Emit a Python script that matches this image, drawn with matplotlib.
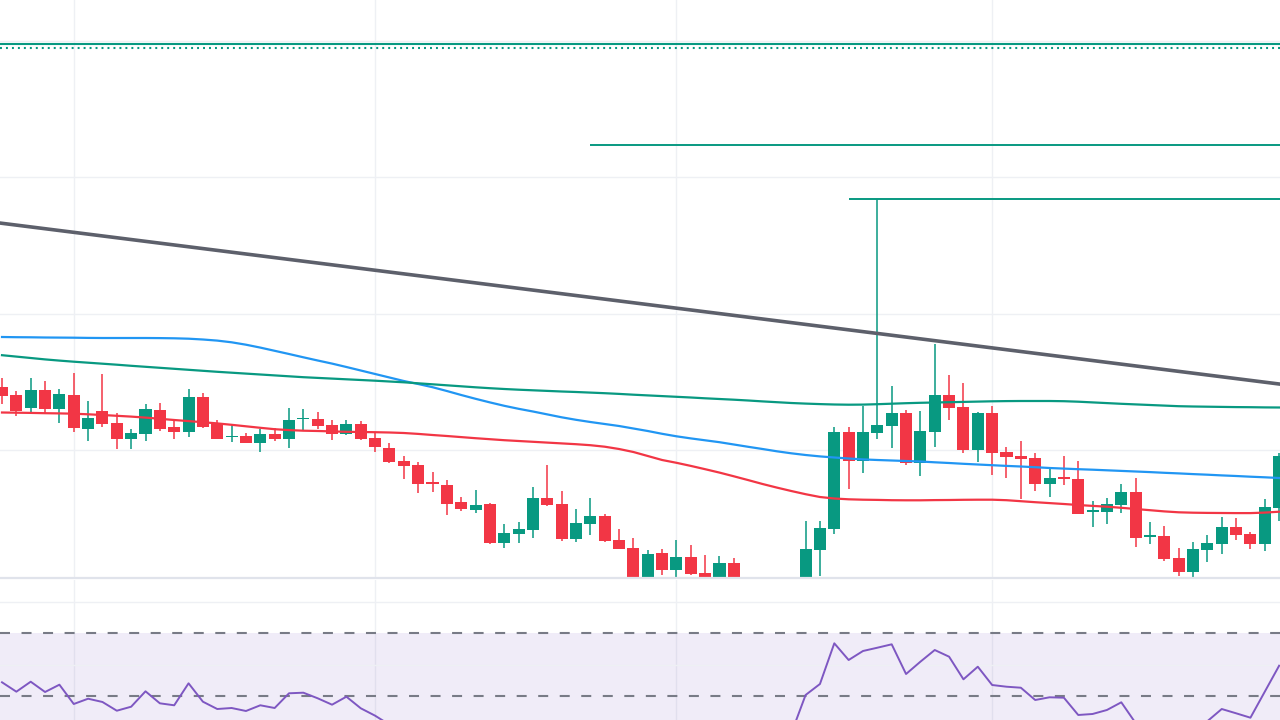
import matplotlib
matplotlib.use('Agg')
import matplotlib.pyplot as plt
import numpy as np

plt.rcParams['lines.scale_dashes'] = False

# candle data (one row per bar)
opens = [106.33, 105.5, 104.23, 106.0, 104.13, 105.5, 102.13, 103.9, 102.7, 101.13,
         101.63, 104.0, 102.3, 101.83, 105.3, 102.6, 101.27, 101.4, 100.73, 101.63,
         101.13, 103.07, 103.1, 102.5, 101.63, 102.6, 101.2, 100.2, 98.9, 98.5,
         96.8, 96.5, 94.8, 94.03, 94.63, 90.73, 91.63, 92.03, 95.2, 94.6,
         91.13, 92.63, 93.4, 91.03, 90.23, 87.33, 89.7, 88.03, 89.33, 87.7,
         86.8, 88.7, 86.5, 85.3, 84.6, 85.8, 86.4, 90.03, 92.13, 101.8,
         98.93, 101.73, 102.43, 103.7, 98.73, 101.83, 105.5, 104.3, 100.03, 103.7,
         99.8, 99.43, 99.23, 96.63, 97.3, 97.1, 93.83, 93.83, 94.53, 95.8,
         91.33, 91.4, 89.2, 87.83, 90.03, 90.63, 92.3, 91.6, 90.63, 94.2]
highs = [107.2, 105.9, 107.17, 106.9, 106.1, 107.67, 104.9, 107.6, 103.67, 102.1,
         104.63, 104.73, 102.93, 106.1, 105.7, 103.0, 102.6, 101.73, 102.07, 102.2,
         104.2, 104.1, 103.8, 103.0, 103.0, 102.9, 101.8, 100.7, 99.4, 98.8,
         97.8, 97.0, 95.3, 96.0, 94.73, 92.6, 92.8, 96.3, 98.5, 95.9,
         94.1, 95.2, 93.6, 92.1, 91.23, 90.0, 90.1, 91.0, 90.5, 89.5,
         89.4, 89.2, 86.9, 86.0, 86.4, 86.9, 92.9, 92.9, 102.33, 102.3,
         104.4, 125.1, 106.4, 104.0, 103.9, 110.6, 107.5, 106.7, 103.8, 104.4,
         100.33, 100.9, 99.73, 98.23, 99.4, 98.9, 94.9, 95.2, 96.6, 97.2,
         92.83, 92.4, 90.2, 90.8, 91.5, 93.3, 93.2, 91.8, 95.1, 99.7]
lows = [104.6, 103.43, 103.83, 103.73, 102.67, 101.83, 100.93, 102.33, 100.13, 100.13,
        100.93, 101.93, 101.13, 101.33, 102.23, 101.13, 100.77, 100.73, 99.83, 100.93,
        100.23, 101.87, 102.13, 101.03, 101.53, 101.03, 99.83, 98.73, 97.13, 95.73,
        95.83, 93.53, 93.93, 93.73, 90.63, 90.23, 90.73, 91.23, 94.43, 90.93,
        90.83, 91.53, 90.83, 90.13, 87.27, 87.23, 87.53, 87.23, 87.53, 86.5,
        86.3, 86.2, 84.8, 84.0, 84.2, 85.0, 86.0, 87.43, 91.63, 96.13,
        97.73, 101.13, 100.23, 98.53, 97.43, 100.33, 103.03, 99.73, 98.83, 97.53,
        97.23, 95.13, 95.93, 95.33, 96.53, 93.63, 92.33, 92.63, 93.73, 90.33,
        90.63, 88.93, 87.43, 87.23, 88.83, 89.63, 91.03, 90.13, 89.93, 92.93]
closes = [105.43, 103.93, 106.0, 104.13, 105.6, 102.23, 103.2, 102.63, 101.13, 101.7,
          104.1, 102.13, 101.83, 105.3, 102.33, 101.13, 101.4, 100.73, 101.63, 101.13,
          103.0, 103.2, 102.43, 101.63, 102.6, 101.13, 100.33, 98.83, 98.43, 96.63,
          96.63, 94.63, 94.13, 94.5, 90.73, 91.7, 92.1, 95.2, 94.53, 91.13,
          92.7, 93.4, 90.93, 90.13, 87.33, 89.6, 88.03, 89.33, 87.63, 86.9,
          88.7, 86.6, 85.3, 84.6, 85.8, 86.5, 90.1, 92.2, 101.8, 98.93,
          101.8, 102.5, 103.7, 98.73, 101.9, 105.5, 104.23, 100.03, 103.7, 99.73,
          99.33, 99.13, 96.63, 97.2, 97.13, 93.63, 94.03, 94.6, 95.8, 91.23,
          91.5, 89.13, 87.83, 90.1, 90.7, 92.3, 91.53, 90.63, 94.3, 99.4]

# moving averages
ma_blue = [111.3, 111.28, 111.27, 111.25, 111.24, 111.23, 111.21, 111.2, 111.2, 111.2,
           111.2, 111.19, 111.17, 111.13, 111.05, 110.94, 110.77, 110.53, 110.24, 109.92,
           109.6, 109.27, 108.95, 108.64, 108.3, 107.95, 107.6, 107.25, 106.9, 106.6,
           106.28, 105.9, 105.5, 105.12, 104.76, 104.42, 104.12, 103.85, 103.56, 103.27,
           103.02, 102.8, 102.6, 102.4, 102.15, 101.9, 101.62, 101.37, 101.16, 100.97,
           100.78, 100.55, 100.32, 100.1, 99.87, 99.67, 99.5, 99.36, 99.25, 99.15,
           99.06, 99.0, 98.95, 98.9, 98.85, 98.77, 98.7, 98.62, 98.55, 98.48,
           98.41, 98.35, 98.28, 98.2, 98.14, 98.08, 98.03, 97.97, 97.91, 97.85,
           97.79, 97.72, 97.66, 97.59, 97.53, 97.46, 97.4, 97.33, 97.27, 97.2]
ma_green = [109.48, 109.34, 109.2, 109.06, 108.94, 108.83, 108.73, 108.63, 108.53, 108.42,
            108.32, 108.22, 108.12, 108.02, 107.92, 107.82, 107.73, 107.64, 107.55, 107.46,
            107.37, 107.28, 107.21, 107.14, 107.07, 107.0, 106.93, 106.85, 106.77, 106.67,
            106.57, 106.47, 106.37, 106.27, 106.18, 106.1, 106.03, 105.97, 105.91, 105.85,
            105.8, 105.74, 105.68, 105.61, 105.53, 105.46, 105.39, 105.32, 105.25, 105.17,
            105.1, 105.03, 104.95, 104.86, 104.78, 104.7, 104.64, 104.59, 104.55, 104.53,
            104.54, 104.58, 104.63, 104.68, 104.72, 104.75, 104.78, 104.81, 104.84, 104.87,
            104.89, 104.9, 104.9, 104.9, 104.88, 104.83, 104.76, 104.69, 104.62, 104.56,
            104.5, 104.44, 104.38, 104.35, 104.33, 104.31, 104.29, 104.28, 104.26, 104.25]
ma_red = [103.75, 103.73, 103.71, 103.68, 103.66, 103.63, 103.57, 103.5, 103.42, 103.34,
          103.24, 103.12, 103.0, 102.89, 102.78, 102.66, 102.52, 102.37, 102.22, 102.08,
          101.99, 101.93, 101.9, 101.86, 101.82, 101.8, 101.78, 101.75, 101.7, 101.61,
          101.5, 101.4, 101.29, 101.18, 101.08, 100.98, 100.9, 100.82, 100.74, 100.66,
          100.58, 100.48, 100.33, 100.1, 99.8, 99.4, 99.0, 98.72, 98.41, 98.08,
          97.74, 97.37, 96.99, 96.6, 96.24, 95.9, 95.58, 95.3, 95.15, 95.07,
          95.03, 95.01, 94.98, 94.97, 94.97, 94.99, 95.0, 95.02, 95.03, 95.03,
          94.98, 94.88, 94.78, 94.69, 94.6, 94.5, 94.41, 94.33, 94.22, 94.1,
          93.98, 93.86, 93.77, 93.73, 93.71, 93.7, 93.69, 93.69, 93.74, 93.83]

# RSI
rsi = [54.35, 51.37, 54.54, 51.27, 53.59, 47.46, 49.14, 48.1, 45.33, 46.6,
       51.49, 47.68, 47.05, 54.03, 48.19, 45.87, 46.19, 45.24, 47.05, 46.19,
       50.86, 51.05, 49.27, 47.24, 49.78, 46.1, 43.75, 40.9, 39.6, 35.8,
       35.5, 32.2, 31.4, 32.3, 27.0, 29.2, 30.3, 36.8, 35.6, 30.1,
       33.0, 34.6, 30.4, 29.1, 25.2, 30.6, 28.4, 31.0, 28.8, 27.9,
       30.4, 28.6, 26.4, 25.6, 28.9, 38.1, 50.32, 53.81, 66.73, 61.43,
       64.29, 65.33, 66.41, 56.98, 60.89, 64.6, 62.48, 55.3, 59.3, 53.49,
       52.95, 52.63, 48.73, 49.59, 49.46, 43.97, 44.29, 45.56, 48.0, 41.4,
       41.8, 37.5, 34.5, 39.0, 42.0, 45.87, 44.51, 43.11, 51.37, 59.62]

# drawn levels
level_solid = 140.57
level_dotted = 140.2
resist_1, resist_1_start = 130.5, 41
resist_2, resist_2_start = 125.1, 59
trend_pts = [(0, 122.67), (89, 106.6)]
price_grid = [100.0, 113.65, 127.3, 140.95]
time_grid = [5, 26, 47, 69]
rsi_grid = [60, 80]

UP = '#089981'
DOWN = '#f23645'
GRID = '#eef0f4'

idx = np.arange(len(closes))
o = np.array(opens); c = np.array(closes)
cols = [UP if cc >= oo else DOWN for oo, cc in zip(o, c)]

fig = plt.figure(figsize=(12.8, 7.2), dpi=100)
ax = fig.add_axes([0, 142 / 720, 1, 578 / 720])
rax = fig.add_axes([0, 0, 1, 140 / 720])

for a in (ax, rax):
    for s in a.spines.values():
        s.set_visible(False)
    a.set_xticks([]); a.set_yticks([])
    a.set_xlim(-0.14, 89.06)
    for g in time_grid:
        a.axvline(g, color=GRID, lw=1, zorder=0)

ax.set_ylim(87.2, 145.0)
for g in price_grid:
    ax.axhline(g, color=GRID, lw=1, zorder=0)

# candles
ax.vlines(idx, lows, highs, colors=cols, lw=1.1, zorder=2)
body = np.maximum(np.abs(c - o), 0.1)
ax.bar(idx, body, bottom=np.minimum(o, c), width=0.84, color=cols, linewidth=0, zorder=3)

# moving averages
ax.plot(idx, ma_blue, color='#2196f3', lw=1.6, zorder=4, solid_joinstyle='round')
ax.plot(idx, ma_green, color='#089981', lw=1.6, zorder=4, solid_joinstyle='round')
ax.plot(idx, ma_red, color='#f23645', lw=1.6, zorder=4, solid_joinstyle='round')

# levels and trend line
ax.axhline(level_solid, color=UP, lw=1.5, zorder=4)
ax.axhline(level_dotted, color=UP, lw=1.5, linestyle=(0, (1.4, 2.9)), zorder=4)
ax.hlines(resist_1, resist_1_start, 89.06, color=UP, lw=1.4, zorder=4)
ax.hlines(resist_2, resist_2_start, 89.06, color=UP, lw=1.4, zorder=4)
ax.axline(trend_pts[0], trend_pts[1], color='#5d606b', lw=2.6, zorder=5)

# pane separator
ax.axhline(87.2, color='#e0e3eb', lw=1.6, clip_on=False, zorder=6)

# RSI pane
rax.set_ylim(42.38, 86.83)
rax.axhspan(30, 70, color='#7e57c2', alpha=0.11, lw=0, zorder=0)
for g in rsi_grid:
    rax.axhline(g, color=GRID, lw=1, zorder=0.5)
for lvl in (70, 50):
    rax.axhline(lvl, color='#787b86', lw=1.5, linestyle=(0, (7.2, 8.3)), zorder=1)
rax.plot(idx, rsi, color='#7e57c2', lw=1.4, zorder=3)

fig.savefig('out.png', dpi=100)
